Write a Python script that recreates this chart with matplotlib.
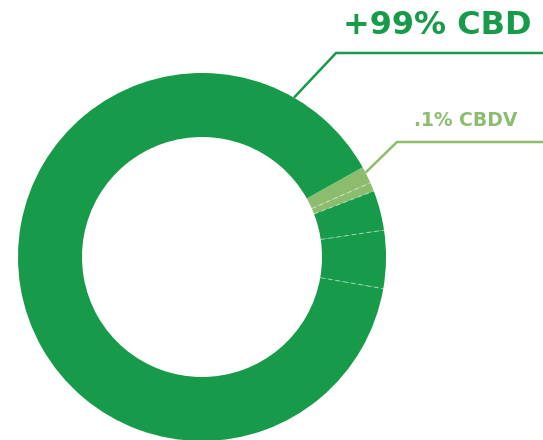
import numpy as np
import matplotlib
matplotlib.use("Agg")
import matplotlib.pyplot as plt

# slice sizes (degrees of the ring), clockwise from the top light slice
labels = ["CBDV a", "CBDV b", "CBD 1", "CBD 2", "CBD 3"]
sizes = [5.4, 2.8, 12.6, 18.3, 320.9]
colors = ["#8cbd6f", "#8cbd6f", "#179a4a", "#179a4a", "#179a4a"]
dark = "#179a4a"
light = "#8cbd6f"

fig = plt.figure(figsize=(5.43, 4.40), dpi=100)
ax = fig.add_axes([0, 0, 1, 1])

cx, cy, r = 202, 183, 184
start = 29.2
wedges, _ = ax.pie(sizes, colors=colors, startangle=start, counterclock=False,
                   center=(cx, cy), radius=r, frame=True,
                   wedgeprops=dict(width=64, edgecolor="none"))
ax.set_xlim(0, 543)
ax.set_ylim(0, 440)
ax.set_aspect("equal")
ax.axis("off")

# faint separators between slices
ang = start
for s in sizes[:-1]:
    ang -= s
    a = np.radians(ang)
    ax.plot([cx + 120 * np.cos(a), cx + r * np.cos(a)],
            [cy + 120 * np.sin(a), cy + r * np.sin(a)],
            color="white", alpha=0.45, lw=0.8, ls=(0, (4, 3)))

# callout lines
a1 = np.radians(60)
ax.plot([cx + r * np.cos(a1), 336, 543], [cy + r * np.sin(a1), 387, 387],
        color=dark, lw=1.8, solid_capstyle="butt")
a2 = np.radians(27.3)
ax.plot([cx + r * np.cos(a2), 397, 543], [cy + r * np.sin(a2), 298, 298],
        color=light, lw=1.8, solid_capstyle="butt")

ax.text(437, 415, "+99% CBD", color=dark, fontsize=23, fontweight="bold",
        family="DejaVu Sans", ha="center", va="center")
ax.text(466, 320, ".1% CBDV", color=light, fontsize=13.5, fontweight="bold",
        family="DejaVu Sans", ha="center", va="center")

fig.savefig("out.png", dpi=100)
